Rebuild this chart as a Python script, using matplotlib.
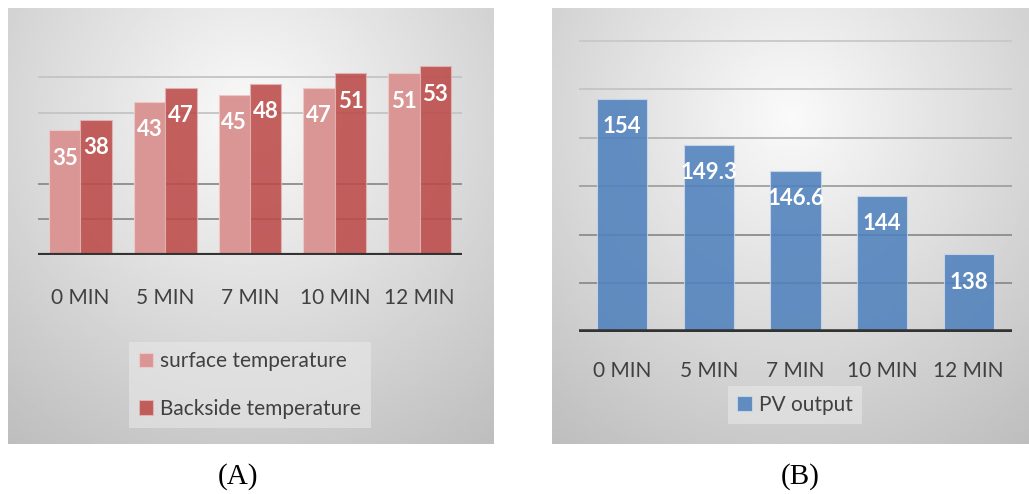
import numpy as np
import matplotlib
matplotlib.use('Agg')
import matplotlib.pyplot as plt

plt.rcParams['font.family'] = ['Lato', 'DejaVu Sans']

# data
categories = ['0 MIN', '5 MIN', '7 MIN', '10 MIN', '12 MIN']
surface_temp = [35, 43, 45, 47, 51]
backside_temp = [38, 47, 48, 51, 53]
pv_output = [154, 149.3, 146.6, 144, 138]

W, H = 1029, 494
fig = plt.figure(figsize=(W / 100, H / 100), dpi=100)


def px_axes(x0, y0, x1, y1, **kw):
    # axes placed in pixel coords (top-left origin)
    return fig.add_axes([x0 / W, 1 - y1 / H, (x1 - x0) / W, (y1 - y0) / H], **kw)


def gradient_bg(x0, y0, x1, y1):
    bg = px_axes(x0, y0, x1, y1)
    gx, gy = np.meshgrid(np.linspace(0, 1, 200), np.linspace(0, 1, 200))
    r = np.sqrt(((gx - 0.5) / 0.85) ** 2 + ((gy - 0.25) / 0.95) ** 2)
    val = 0.98 - 0.24 * np.clip(r, 0, 1)
    bg.imshow(val, cmap='gray', vmin=0, vmax=1, aspect='auto', extent=(0, 1, 1, 0))
    bg.set_axis_off()
    return bg


gradient_bg(8, 8, 494, 444)
gradient_bg(552, 8, 1029, 444)

text_col = '#404040'
x = np.arange(len(categories))

# ---- panel A: temperatures
ax1 = px_axes(38, 55.6, 462, 255)
ax1.patch.set_alpha(0)
for v, c in zip([10, 20, 40, 50], ['#8c8c8c', '#8c8c8c', '#c4c4c4', '#c4c4c4']):
    ax1.axhline(v, color=c, lw=1.3, zorder=1)
w = 0.37
b1 = ax1.bar(x - w / 2, surface_temp, w, color='#d99694', edgecolor='#ecc9c8', lw=0.8,
             zorder=2, label='surface temperature')
b2 = ax1.bar(x + w / 2, backside_temp, w, color='#bc4a48', alpha=0.88, edgecolor='#e2b5b4',
             lw=0.8, zorder=3, label='Backside temperature')
for bars, vals in [(b1, surface_temp), (b2, backside_temp)]:
    for rect, v in zip(bars, vals):
        ax1.annotate(f'{v:g}', (rect.get_x() + rect.get_width() / 2, v), xytext=(0, -20),
                     textcoords='offset points', ha='center', va='center',
                     color='white', fontweight='bold', fontsize=16, zorder=5)
ax1.axhline(0, color='#333333', lw=3, zorder=4)
ax1.set_xlim(-0.5, 4.5)
ax1.set_ylim(0, 56)
ax1.set_xticks(x, categories, fontsize=15, color=text_col)
ax1.tick_params(axis='x', length=0, pad=24)
ax1.set_yticks([])
for s in ax1.spines.values():
    s.set_visible(False)
leg1 = ax1.legend(loc='center', bbox_to_anchor=(250 / W, 1 - 385 / H), bbox_transform=fig.transFigure,
                  fontsize=15, labelspacing=1.3, handlelength=0.7, handleheight=0.7,
                  handletextpad=0.35, borderpad=0.45, borderaxespad=0, fancybox=False)
leg1.get_frame().set_facecolor('#e8e8e8')
leg1.get_frame().set_alpha(0.6)
leg1.get_frame().set_edgecolor('none')
for t in leg1.get_texts():
    t.set_color(text_col)

# ---- panel B: PV output
ax2 = px_axes(579, 36, 1012, 332)
ax2.patch.set_alpha(0)
for v, c in zip([135, 140, 145, 150, 155, 160],
                ['#8c8c8c', '#8c8c8c', '#a0a0a0', '#b4b4b4', '#c4c4c4', '#c8c8c8']):
    ax2.axhline(v, color=c, lw=1.3, zorder=1)
b3 = ax2.bar(x, pv_output, 0.58, bottom=0, color='#4f81bd', alpha=0.88, edgecolor='#c9d7ea',
             lw=0.8, zorder=2, label='PV output')
for rect, v in zip(b3, pv_output):
    ax2.annotate(f'{v:g}', (rect.get_x() + rect.get_width() / 2, v), xytext=(0, -20),
                 textcoords='offset points', ha='center', va='center',
                 color='white', fontweight='bold', fontsize=16, zorder=5)
ax2.axhline(130, color='#333333', lw=4, zorder=4)
ax2.set_xlim(-0.5, 4.5)
ax2.set_ylim(130, 160.5)
ax2.set_xticks(x, categories, fontsize=15, color=text_col)
ax2.tick_params(axis='x', length=0, pad=21)
ax2.set_yticks([])
for s in ax2.spines.values():
    s.set_visible(False)
leg2 = ax2.legend(loc='center', bbox_to_anchor=(795 / W, 1 - 405 / H), bbox_transform=fig.transFigure,
                  fontsize=15, handlelength=0.7, handleheight=0.7, handletextpad=0.35,
                  borderpad=0.45, borderaxespad=0, fancybox=False)
leg2.get_frame().set_facecolor('#e8e8e8')
leg2.get_frame().set_alpha(0.6)
leg2.get_frame().set_edgecolor('none')
for t in leg2.get_texts():
    t.set_color(text_col)

# captions
fig.text(238 / W, 1 - 477 / H, '(A)', ha='center', va='center', family='Liberation Serif', fontsize=21)
fig.text(800 / W, 1 - 477 / H, '(B)', ha='center', va='center', family='Liberation Serif', fontsize=21)

fig.savefig('out.png', dpi=100)
